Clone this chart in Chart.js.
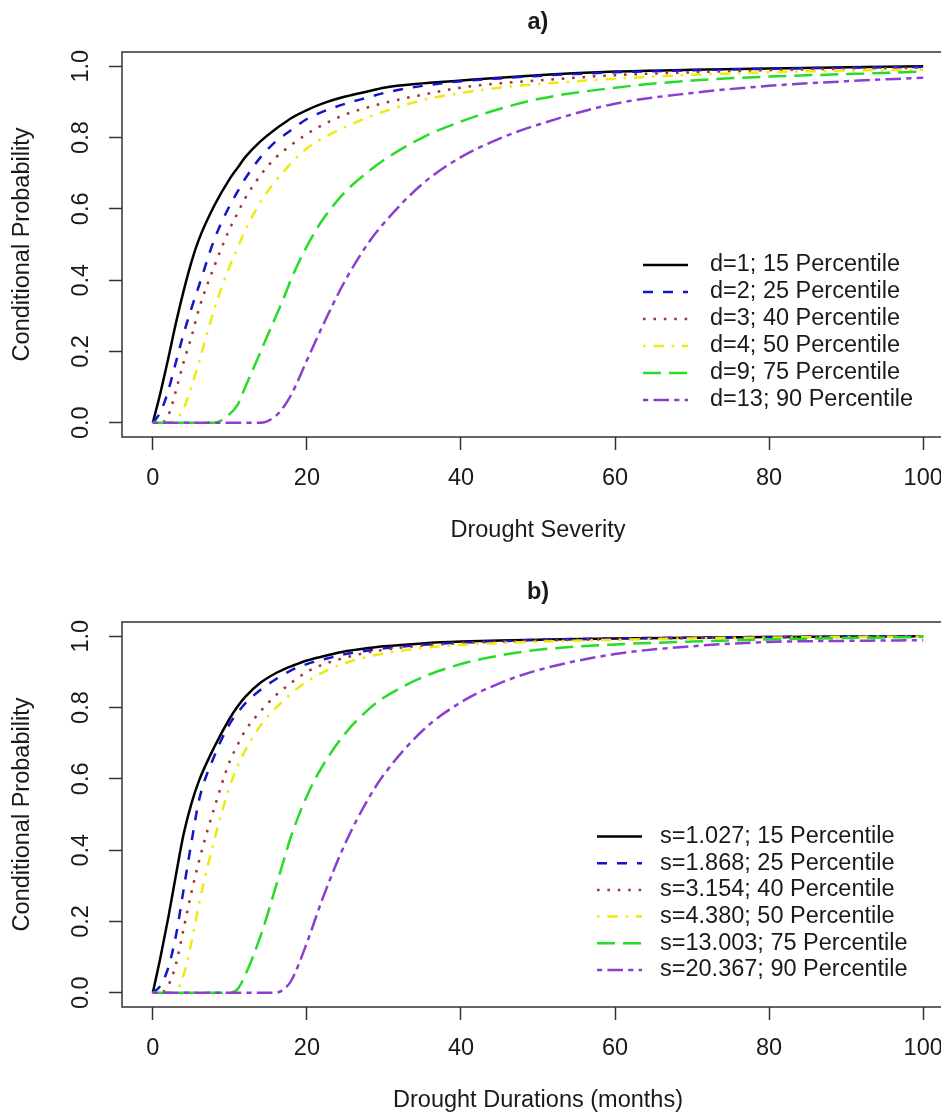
<!DOCTYPE html>
<html><head><meta charset="utf-8">
<script src="https://cdn.jsdelivr.net/npm/chart.js@4"></script>
<style>
html,body{margin:0;padding:0;background:#fff;overflow:hidden;width:941px;height:1115px;}
#wrap{position:relative;width:941px;height:1115px;overflow:hidden;background:#fff;}
.pane{position:absolute;left:0;width:960px;height:545px;}
</style></head><body>
<div id="wrap">
<div class="pane" style="top:0"><canvas id="ca" width="960" height="545"></canvas></div>
<div class="pane" style="top:570px"><canvas id="cb" width="960" height="545"></canvas></div>
</div>
<script>
// ---- data ----
const xValues = [0,1,2,3,4,5,6,8,10,11,12,14,16,17,18,20,22,25,28,30,35,40,45,50,60,70,80,90,100];
const xTicks = [0,20,40,60,80,100];
const yTicks = [0.0,0.2,0.4,0.6,0.8,1.0];

// panel a) conditional probability vs drought severity
const labelsA = ["d=1; 15 Percentile","d=2; 25 Percentile","d=3; 40 Percentile","d=4; 50 Percentile","d=9; 75 Percentile","d=13; 90 Percentile"];
const blackA  = [0,.085,.18,.28,.37,.45,.515,.61,.685,.715,.745,.79,.825,.84,.855,.877,.895,.915,.93,.94,.952,.96,.968,.975,.985,.99,.994,.997,1.0];
const blueA   = [0,.03,.09,.17,.25,.32,.385,.515,.61,.648,.685,.745,.79,.806,.822,.852,.872,.895,.913,.925,.945,.958,.966,.973,.983,.989,.993,.996,.998];
const redA    = [0,0,.02,.09,.17,.24,.32,.44,.545,.588,.63,.695,.745,.763,.78,.81,.835,.865,.885,.897,.92,.94,.952,.96,.975,.983,.989,.993,.996];
const yellowA = [0,0,0,.01,.04,.1,.17,.32,.44,.49,.54,.62,.68,.705,.73,.77,.797,.83,.857,.873,.905,.925,.94,.95,.965,.976,.983,.988,.99];
const greenA  = [0,0,0,0,0,0,0,0,.025,.05,.1,.2,.3,.35,.405,.495,.568,.648,.705,.737,.8,.845,.88,.908,.94,.96,.971,.978,.985];
const purpleA = [0,0,0,0,0,0,0,0,0,0,0,0,.02,.045,.08,.175,.27,.40,.505,.56,.67,.745,.797,.836,.895,.925,.945,.958,.968];

// panel b) conditional probability vs drought duration
const labelsB = ["s=1.027; 15 Percentile","s=1.868; 25 Percentile","s=3.154; 40 Percentile","s=4.380; 50 Percentile","s=13.003; 75 Percentile","s=20.367; 90 Percentile"];
const blackB  = [0,.1,.21,.33,.445,.53,.595,.69,.77,.803,.83,.87,.897,.907,.916,.932,.943,.958,.967,.972,.98,.985,.988,.99,.994,.996,.998,.999,1.0];
const blueB   = [0,.02,.07,.16,.29,.42,.54,.665,.755,.785,.812,.85,.88,.893,.905,.922,.934,.95,.96,.966,.976,.982,.986,.99,.994,.996,.998,.999,1.0];
const redB    = [0,0,.02,.08,.18,.28,.37,.52,.65,.695,.735,.79,.835,.853,.87,.9,.92,.94,.955,.962,.974,.981,.985,.988,.992,.995,.997,.998,.999];
const yellowB = [0,0,0,.005,.05,.14,.25,.43,.58,.635,.68,.75,.8,.82,.84,.873,.898,.925,.943,.952,.967,.976,.981,.985,.99,.994,.996,.998,.999];
const greenB  = [0,0,0,0,0,0,0,0,0,.01,.05,.16,.3,.372,.442,.552,.635,.728,.795,.828,.885,.922,.946,.962,.977,.985,.991,.995,.998];
const purpleB = [0,0,0,0,0,0,0,0,0,0,0,0,0,.01,.035,.14,.262,.42,.545,.612,.735,.815,.868,.905,.95,.972,.984,.987,.989];

// ---- styles ----
const FONT = "'Liberation Sans', Arial, Helvetica, sans-serif";
const TXT = '#1a1a1a';
const FS = 23.5;
const styles = [
  {color:'#000000', dash:[]},
  {color:'#1414c8', dash:[10,10]},
  {color:'#a83232', dash:[2.6,7.8]},
  {color:'#eeea10', dash:[2.6,7.8,10.4,7.8]},
  {color:'#26dc26', dash:[18,8]},
  {color:'#8b3fd0', dash:[5.2,5.2,15.6,5.2]}
];

Chart.defaults.font.family = FONT;
Chart.defaults.font.size = FS;
Chart.defaults.color = TXT;

const boxPlugin = {
  id: 'rbox',
  afterDatasetsDraw(chart) {
    const {ctx, chartArea: a} = chart;
    ctx.save();
    ctx.strokeStyle = '#333';
    ctx.lineWidth = 1.5;
    ctx.setLineDash([]);
    ctx.strokeRect(a.left, a.top, a.right - a.left, a.bottom - a.top);
    ctx.restore();
  }
};

const rLegend = {
  id: 'rlegend',
  afterDraw(chart, args, o) {
    const ctx = chart.ctx;
    ctx.save();
    ctx.font = FS + 'px ' + FONT;
    ctx.textBaseline = 'middle';
    ctx.textAlign = 'left';
    chart.data.datasets.forEach((ds, i) => {
      const y = o.top + i * o.step;
      ctx.strokeStyle = ds.borderColor;
      ctx.lineWidth = ds.borderWidth;
      ctx.setLineDash(ds.borderDash || []);
      ctx.beginPath();
      ctx.moveTo(o.x1, y);
      ctx.lineTo(o.x2, y);
      ctx.stroke();
      ctx.setLineDash([]);
      ctx.fillStyle = TXT;
      ctx.fillText(ds.label, o.tx, y);
    });
    ctx.restore();
  }
};

function makeChart(id, titleText, xTitle, series, labels, leg) {
  const datasets = series.map((ys, i) => ({
    label: labels[i],
    data: xValues.map((x, k) => ({x: x, y: ys[k]})),
    borderColor: styles[i].color,
    borderDash: styles[i].dash,
    borderWidth: 2.5,
    pointRadius: 0,
    fill: false,
    cubicInterpolationMode: 'monotone',
    order: series.length - i
  }));
  const gridOpts = {drawOnChartArea: false, drawTicks: true, tickLength: 13, tickWidth: 1.5, tickColor: '#333'};
  return new Chart(document.getElementById(id), {
    type: 'line',
    data: {datasets},
    plugins: [boxPlugin, rLegend],
    options: {
      responsive: false,
      animation: false,
      layout: {padding: {left: 0, right: 6, top: 0, bottom: 0}},
      plugins: {
        legend: {display: false},
        tooltip: {enabled: false},
        title: {display: true, text: titleText, fullSize: false, color: TXT,
                font: {size: FS, weight: 'bold'}, padding: {top: 8, bottom: 15.8}},
        rlegend: leg
      },
      scales: {
        x: {
          type: 'linear', min: -4, max: 104,
          afterBuildTicks(s) { s.ticks = xTicks.map(v => ({value: v})); },
          ticks: {stepSize: 20, includeBounds: false, autoSkip: false, maxRotation: 0, padding: 14,
                  color: TXT, callback: v => String(v)},
          grid: gridOpts,
          border: {display: false},
          title: {display: true, text: xTitle, color: TXT, padding: {top: 0, bottom: 0}},
          afterFit(s) { s.height = 108; }
        },
        y: {
          type: 'linear', min: -0.04, max: 1.04,
          afterBuildTicks(s) { s.ticks = yTicks.map(v => ({value: v})); },
          ticks: {stepSize: 0.2, includeBounds: false, autoSkip: false, minRotation: 90, maxRotation: 90,
                  crossAlign: 'center', padding: 11, color: TXT, callback: v => Number(v).toFixed(1)},
          grid: gridOpts,
          border: {display: false},
          title: {display: true, text: 'Conditional Probability', color: TXT, padding: {top: 8, bottom: 0}},
          afterFit(s) { s.width = 122; }
        }
      }
    }
  });
}

makeChart('ca', 'a)', 'Drought Severity',
  [blackA, blueA, redA, yellowA, greenA, purpleA], labelsA,
  {x1: 643, x2: 688, tx: 710, top: 265, step: 27});
makeChart('cb', 'b)', 'Drought Durations (months)',
  [blackB, blueB, redB, yellowB, greenB, purpleB], labelsB,
  {x1: 597, x2: 642, tx: 660, top: 266.5, step: 26.7});
</script>
</body></html>
